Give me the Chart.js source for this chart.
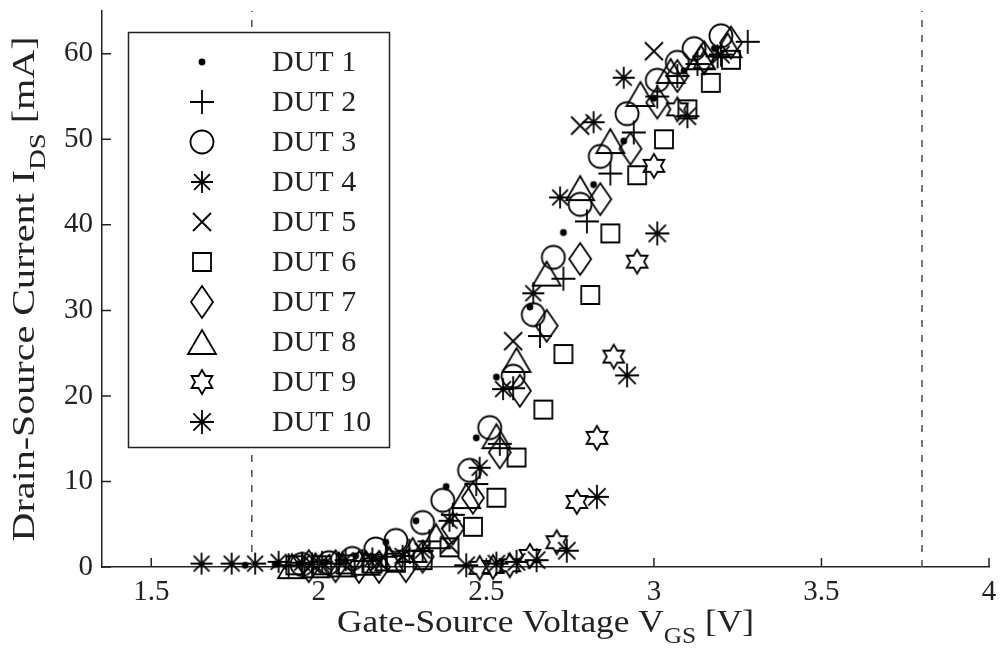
<!DOCTYPE html>
<html>
<head>
<meta charset="utf-8">
<script src="https://cdn.jsdelivr.net/npm/chart.js@4.4.1/dist/chart.umd.min.js"></script>
<style>
  html, body { margin: 0; padding: 0; background: #fff; }
  #wrap { width: 1000px; height: 664px; }
</style>
</head>
<body>
<div id="wrap"><canvas id="chart" width="1000" height="664"></canvas></div>
<script>
// Transfer curves, I_DS over V_GS, ten devices

const seriesNames = ['DUT 1', 'DUT 2', 'DUT 3', 'DUT 4', 'DUT 5',
                     'DUT 6', 'DUT 7', 'DUT 8', 'DUT 9', 'DUT 10'];

// [V_GS in V, I_DS in mA]
const dut1 = [[1.78,0.2],[1.87,0.3],[1.94,0.4],[2.02,0.6],[2.11,1.3],[2.20,2.9],[2.29,5.4],[2.38,9.4],
              [2.47,15.1],[2.53,22.2],[2.63,30.4],[2.73,39.1],[2.82,44.7],[2.91,49.8],[3.00,54.8],[3.09,58.0],[3.18,60.6]];
const dut2 = [[1.91,0.2],[1.98,0.3],[2.06,0.4],[2.13,0.7],[2.20,1.2],[2.27,1.9],[2.33,3.0],[2.40,6.1],[2.47,9.7],
              [2.54,14.4],[2.58,20.9],[2.66,27.0],[2.73,33.7],[2.80,40.4],[2.87,46.0],[2.94,50.8],[3.01,55.0],
              [3.07,57.4],[3.13,58.8],[3.19,59.7],[3.28,61.4]];
const dut3 = [[1.95,0.3],[2.03,0.5],[2.10,1.0],[2.17,2.1],[2.23,3.1],[2.31,5.2],[2.37,7.8],[2.45,11.3],[2.51,16.3],
              [2.58,22.3],[2.64,29.5],[2.70,36.2],[2.78,42.4],[2.84,48.0],[2.92,53.0],[3.01,56.9],[3.07,59.0],
              [3.12,60.6],[3.20,62.1]];
const dut4 = [[1.65,0.4],[1.74,0.4],[1.81,0.4],[1.88,0.6],[1.95,0.5],[2.01,0.6],[2.08,0.8],[2.16,1.0],[2.25,1.3],
              [2.31,1.9],[2.39,5.4],[2.48,11.6],[2.55,20.8],[2.64,32.0],[2.72,43.2],[2.82,52.0],[2.91,57.2]];
const dut5 = [[1.98,0.3],[2.18,0.6],[2.39,2.6],[2.58,26.4],[2.78,51.6],[3.00,60.3]];
const dut6 = [[1.93,0.2],[2.01,0.2],[2.08,0.3],[2.16,0.4],[2.23,0.5],[2.31,0.8],[2.39,2.3],[2.46,4.7],[2.53,8.1],
              [2.59,12.8],[2.67,18.4],[2.73,24.9],[2.81,31.8],[2.87,39.0],[2.95,45.8],[3.03,50.0],[3.10,53.5],
              [3.17,56.6],[3.23,59.3]];
const dut7 = [[1.97,0.1],[2.05,0.1],[2.12,0.0],[2.18,0.0],[2.26,0.1],[2.31,1.2],[2.40,4.5],[2.46,8.1],[2.54,13.4],
              [2.60,20.6],[2.68,28.2],[2.78,36.0],[2.84,43.0],[2.93,48.9],[3.01,54.3],[3.07,57.4],[3.15,59.6],[3.23,61.3]];
const dut8 = [[1.92,0.1],[1.99,0.2],[2.07,0.3],[2.14,0.5],[2.21,1.0],[2.28,2.0],[2.35,3.6],[2.44,8.3],[2.53,15.3],
              [2.59,24.2],[2.68,34.3],[2.78,44.3],[2.87,49.8],[2.96,55.3],[3.05,58.0],[3.14,59.6],[3.22,61.0]];
const dut9 = [[2.48,-0.1],[2.52,0.0],[2.57,0.2],[2.63,1.3],[2.71,2.9],[2.77,7.6],[2.83,15.1],[2.88,24.6],
              [2.95,35.7],[3.00,46.9],[3.07,53.5],[3.15,59.0]];
const dut10 = [[2.44,0.2],[2.53,0.4],[2.59,0.6],[2.65,0.8],[2.74,1.9],[2.83,8.2],[2.92,22.4],[3.01,39.0],
               [3.10,52.7],[3.20,59.9]];

const allSeries = [dut1, dut2, dut3, dut4, dut5, dut6, dut7, dut8, dut9, dut10];

const xTicks = [1.5, 2, 2.5, 3, 3.5, 4];
const yTicks = [0, 10, 20, 30, 40, 50, 60];
const xRange = [1.353, 4];
const yRange = [0, 65];
const limitLines = [1.8, 3.8];   // dashed V_GS limits

const xTitle = ['Gate-Source Voltage V', 'GS', ' [V]'];
const yTitle = ['Drain-Source Current I', 'DS', ' [mA]'];

const FONT = '"Liberation Serif", "Times New Roman", serif';
const INK = '#222';

// marker glyphs as small canvases (MATLAB-like: . + o * x s d ^ h *)
function marker(kind, w, h) {
    h = h || w;
    const c = document.createElement('canvas');
    c.width = w; c.height = h;
    const g = c.getContext('2d');
    const cx = w / 2, cy = h / 2;
    g.strokeStyle = '#000';
    g.fillStyle = '#000';
    g.lineWidth = 1.8;
    g.lineJoin = 'miter';
    g.beginPath();
    if (kind === 'dot') {
        g.arc(cx, cy, 3.4, 0, Math.PI * 2);
        g.fill();
        return c;
    } else if (kind === 'plus') {
        const r = cx - 2;
        g.moveTo(cx - r, cy); g.lineTo(cx + r, cy);
        g.moveTo(cx, cy - r); g.lineTo(cx, cy + r);
    } else if (kind === 'circle') {
        g.arc(cx, cy, cx - 2.5, 0, Math.PI * 2);
    } else if (kind === 'aster') {
        const r = cx - 2, d = r * 0.72;
        g.moveTo(cx - r, cy); g.lineTo(cx + r, cy);
        g.moveTo(cx, cy - r); g.lineTo(cx, cy + r);
        g.moveTo(cx - d, cy - d); g.lineTo(cx + d, cy + d);
        g.moveTo(cx - d, cy + d); g.lineTo(cx + d, cy - d);
    } else if (kind === 'x') {
        const r = cx - 2;
        g.moveTo(cx - r, cy - r); g.lineTo(cx + r, cy + r);
        g.moveTo(cx - r, cy + r); g.lineTo(cx + r, cy - r);
    } else if (kind === 'square') {
        const r = cx - 3;
        g.rect(cx - r, cy - r, 2 * r, 2 * r);
    } else if (kind === 'diamond') {
        const rx = cx - 2, ry = cy - 2;
        g.moveTo(cx, cy - ry); g.lineTo(cx + rx, cy);
        g.lineTo(cx, cy + ry); g.lineTo(cx - rx, cy); g.closePath();
    } else if (kind === 'triangle') {
        const rx = cx - 2, ry = cy - 2;
        g.moveTo(cx, cy - ry); g.lineTo(cx + rx, cy + ry);
        g.lineTo(cx - rx, cy + ry); g.closePath();
    } else if (kind === 'hexagram') {
        const R = cx - 2, r = R / Math.sqrt(3);
        for (let k = 0; k < 12; k++) {
            const a = -Math.PI / 2 + k * Math.PI / 6;
            const rr = k % 2 ? r : R;
            const px = cx + rr * Math.cos(a), py = cy + rr * Math.sin(a);
            k ? g.lineTo(px, py) : g.moveTo(px, py);
        }
        g.closePath();
    }
    g.stroke();
    return c;
}

const markers = [
    marker('dot', 10),
    marker('plus', 28),
    marker('circle', 28),
    marker('aster', 26),
    marker('x', 22),
    marker('square', 24),
    marker('diamond', 26, 36),
    marker('triangle', 32, 28),
    marker('hexagram', 28),
    marker('aster', 28)
];

// inward tick marks, MATLAB style
const innerTicks = {
    id: 'innerTicks',
    afterDatasetsDraw(chart) {
        const {ctx, chartArea: a, scales: {x, y}} = chart;
        ctx.save();
        ctx.strokeStyle = INK;
        ctx.lineWidth = 1.5;
        ctx.beginPath();
        xTicks.forEach(v => {
            const px = x.getPixelForValue(v);
            ctx.moveTo(px, a.bottom); ctx.lineTo(px, a.bottom - 9);
        });
        yTicks.forEach(v => {
            const py = y.getPixelForValue(v);
            ctx.moveTo(a.left, py); ctx.lineTo(a.left + 9, py);
        });
        ctx.stroke();
        ctx.restore();
    }
};

// axis titles with subscripts
function drawTitle(ctx, parts, size, length) {
    const sub = size * 0.72;
    ctx.font = size + 'px ' + FONT;
    const w0 = ctx.measureText(parts[0]).width;
    const w2 = ctx.measureText(parts[2]).width;
    ctx.font = sub + 'px ' + FONT;
    const w1 = ctx.measureText(parts[1]).width;
    const total = w0 + w1 + w2;
    ctx.scale(length / total, 1);
    let x = -total / 2;
    ctx.textAlign = 'left';
    ctx.textBaseline = 'alphabetic';
    ctx.font = size + 'px ' + FONT;
    ctx.fillText(parts[0], x, 0);
    x += w0;
    ctx.font = sub + 'px ' + FONT;
    ctx.fillText(parts[1], x, size * 0.36);
    x += w1;
    ctx.font = size + 'px ' + FONT;
    ctx.fillText(parts[2], x, 0);
}

const axisTitles = {
    id: 'axisTitles',
    afterDraw(chart) {
        const {ctx, chartArea: a} = chart;
        ctx.save();
        ctx.fillStyle = INK;
        ctx.translate((a.left + a.right) / 2, 632);
        drawTitle(ctx, xTitle, 31, 417);
        ctx.restore();

        ctx.save();
        ctx.fillStyle = INK;
        ctx.translate(34, (a.top + a.bottom) / 2);
        ctx.rotate(-Math.PI / 2);
        drawTitle(ctx, yTitle, 31, 505);
        ctx.restore();
    }
};

// boxed legend in the upper left
const boxLegend = {
    id: 'boxLegend',
    afterDraw(chart) {
        const ctx = chart.ctx;
        ctx.save();
        ctx.fillStyle = '#fff';
        ctx.fillRect(128, 32, 261, 416);
        ctx.strokeStyle = INK;
        ctx.lineWidth = 1.5;
        ctx.strokeRect(128.5, 32.5, 261, 415);
        ctx.font = '30px ' + FONT;
        ctx.fillStyle = INK;
        ctx.textAlign = 'left';
        ctx.textBaseline = 'middle';
        seriesNames.forEach((name, i) => {
            const yy = 62 + i * 40;
            Chart.helpers.drawPoint(ctx, {pointStyle: markers[i], radius: 10, rotation: 0, borderWidth: 0}, 202, yy);
            ctx.fillText(name, 272, yy + 1);
        });
        ctx.restore();
    }
};

const datasets = allSeries.map((pts, i) => ({
    type: 'scatter',
    label: seriesNames[i],
    data: pts.map(p => ({x: p[0], y: p[1]})),
    pointStyle: markers[i],
    pointRadius: 10,
    pointHoverRadius: 10,
    clip: false
}));

limitLines.forEach(v => {
    datasets.unshift({
        type: 'line',
        label: 'limit',
        data: [{x: v, y: yRange[0]}, {x: v, y: yRange[1]}],
        borderColor: '#555',
        borderWidth: 1.6,
        borderDash: [7, 8],
        pointRadius: 0,
        fill: false
    });
});

Chart.defaults.font.family = FONT;
Chart.defaults.color = INK;

new Chart(document.getElementById('chart'), {
    type: 'scatter',
    data: { datasets: datasets },
    options: {
        responsive: false,
        animation: false,
        devicePixelRatio: 1,
        layout: { padding: { left: 0, top: 7, right: 9, bottom: 0 } },
        plugins: { legend: { display: false }, tooltip: { enabled: false } },
        scales: {
            x: {
                type: 'linear',
                min: xRange[0],
                max: xRange[1],
                grid: { display: false, drawTicks: false },
                border: { display: true, color: INK, width: 1.5 },
                afterBuildTicks: s => { s.ticks = xTicks.map(v => ({value: v})); },
                afterFit: s => { s.height = 97; s.paddingLeft = 0; s.paddingRight = 0; },
                ticks: {
                    font: { size: 29 },
                    color: INK,
                    padding: 8,
                    maxRotation: 0,
                    autoSkip: false,
                    callback: v => String(v)
                }
            },
            y: {
                type: 'linear',
                min: yRange[0],
                max: yRange[1],
                grid: { display: false, drawTicks: false },
                border: { display: true, color: INK, width: 1.5 },
                afterBuildTicks: s => { s.ticks = yTicks.map(v => ({value: v})); },
                afterFit: s => { s.width = 102; s.paddingTop = 0; s.paddingBottom = 0; },
                ticks: {
                    font: { size: 29 },
                    color: INK,
                    padding: 9,
                    callback: v => String(v)
                }
            }
        }
    },
    plugins: [innerTicks, axisTitles, boxLegend]
});
</script>
</body>
</html>
